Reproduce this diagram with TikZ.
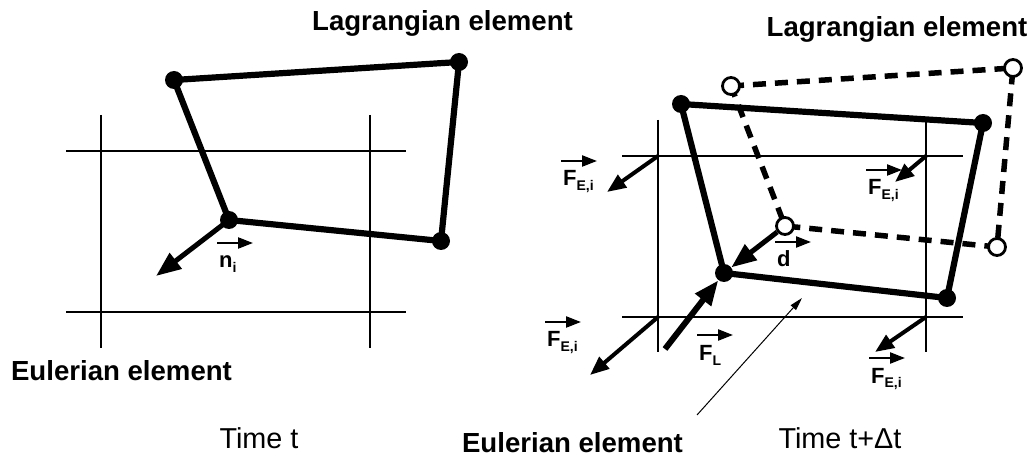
\documentclass[tikz,border=0pt]{standalone}
\usepackage{fontspec}
\setmainfont{Liberation Sans}
\usetikzlibrary{arrows.meta}
\newcommand{\lsub}[1]{\raisebox{-5pt}{\fontsize{14}{15}\selectfont #1}}
\newcommand{\vlab}[3]{\node[lbl] (#1) at (#2) {#3};
  \draw[vecarr] ([shift={(-2,-25)}]#1.base west) -- ++(36,0);}
\begin{document}
\begin{tikzpicture}[x=1pt,y=-1pt,
  grid/.style={line width=2.6pt},
  quad/.style={line width=6.2pt, line join=round},
  dquad/.style={line width=5.5pt, dash pattern=on 13pt off 9pt},
  dot/.style={circle, fill=black, inner sep=0pt, minimum size=18pt},
  odot/.style={circle, draw=black, fill=white, line width=2.8pt, inner sep=0pt, minimum size=17pt},
  bigarr/.style={line width=5pt, -{Triangle[length=25pt,width=19pt]}},
  farr/.style={line width=4pt, -{Triangle[length=19pt,width=15pt]}},
  flarr/.style={line width=6pt, -{Triangle[length=25pt,width=19pt]}},
  vecarr/.style={line width=2.3pt, -{Triangle[length=15pt,width=11pt]}},
  leader/.style={line width=1pt, -{Triangle[length=13pt,width=7pt]}},
  title/.style={font=\fontsize{27.6}{30}\selectfont\bfseries, inner sep=0pt, anchor=base},
  timel/.style={font=\fontsize{28.8}{32}\selectfont, inner sep=0pt, anchor=base},
  lbl/.style={font=\fontsize{22}{24}\selectfont\bfseries, inner sep=0pt, anchor=base west},
]
\useasboundingbox (0,0) rectangle (1029,457);

% ---------------- left panel ----------------
\draw[grid] (101,115) -- (101,348);
\draw[grid] (370,115) -- (370,348);
\draw[grid] (66,151) -- (406,151);
\draw[grid] (66,312) -- (406,312);

\coordinate (l1) at (174,80);
\coordinate (l2) at (459,62);
\coordinate (l3) at (441,241);
\coordinate (l4) at (229,220);
\draw[quad] (l1) -- (l2) -- (l3) -- (l4) -- cycle;
\foreach \p in {l1,l2,l3,l4} \node[dot] (d\p) at (\p) {};

\coordinate (nend) at (156,276);
\draw[bigarr] (l4) -- (nend);
\vlab{nlab}{219,268}{n\lsub{i}}

\node[title] (lagL) at (442.5,31) {Lagrangian element};
\node[title] (eulL) at (121.5,381) {Eulerian element};
\node[timel] (timeL) at (259,448) {Time t};

% ---------------- right panel ----------------
\draw[grid] (658,120) -- (658,352);
\draw[grid] (926,120) -- (926,352);
\draw[grid] (622,156) -- (963,156);
\draw[grid] (622,317) -- (963,317);
\coordinate (g1) at (658,156);
\coordinate (g2) at (926,156);
\coordinate (g3) at (658,317);
\coordinate (g4) at (926,317);

% old (dashed) Lagrangian element
\coordinate (o1) at (731,86);
\coordinate (o2) at (1013,68);
\coordinate (o3) at (997,247);
\coordinate (o4) at (785,226);
\draw[dquad] (o1) -- (o2) -- (o3) -- (o4) -- cycle;

% new Lagrangian element
\coordinate (m1) at (681,104);
\coordinate (m2) at (983,123);
\coordinate (m3) at (947,298);
\coordinate (m4) at (724,273);
\draw[quad] (m1) -- (m2) -- (m3) -- (m4) -- cycle;
\foreach \p in {m1,m2,m3,m4} \node[dot] (d\p) at (\p) {};
\foreach \p in {o1,o2,o3,o4} \node[odot] (d\p) at (\p) {};

% forces
\coordinate (e1) at (607,192);
\coordinate (e2) at (895,182);
\coordinate (e3) at (590,375);
\coordinate (e4) at (875,352);
\draw[farr] (g1) -- (e1);
\draw[farr] (g2) -- (e2);
\draw[farr] (g3) -- (e3);
\draw[farr] (g4) -- (e4);

\draw[bigarr] (do4) -- (dm4);
\coordinate (fls) at (665,349);
\draw[flarr] (fls) -- (dm4);

\vlab{fe1}{563,186}{F\lsub{E,i}}
\vlab{fe2}{868,195}{F\lsub{E,i}}
\vlab{fe3}{547,347}{F\lsub{E,i}}
\vlab{fe4}{871,383}{F\lsub{E,i}}
\vlab{fl}{699,360}{F\lsub{L}}
\vlab{dl}{777,267}{d}

\node[title] (lagR) at (897,37) {Lagrangian element};
\node[title] (eulR) at (572.5,452) {Eulerian element};
\node[timel] (timeR) at (840,448) {Time t+Δt};

\coordinate (ls) at (697,415);
\coordinate (le) at (802,298);
\draw[leader] (ls) -- (le);
\end{tikzpicture}
\end{document}
